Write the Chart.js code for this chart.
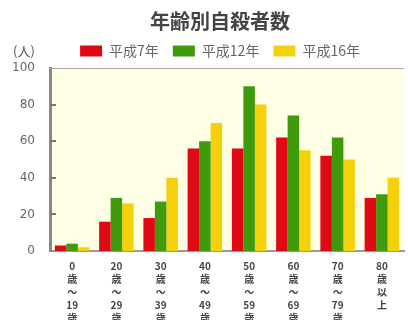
<!DOCTYPE html>
<html>
<head>
<meta charset="utf-8">
<script src="https://cdn.jsdelivr.net/npm/chart.js@4/dist/chart.umd.min.js"></script>
<style>
  body { margin: 0; background: #fff; }
</style>
</head>
<body>
<canvas id="grafico" width="408" height="320"></canvas>
<script>
// categorias (rotulos verticais)
const faixas = [
    ['0', '歳', '～', '19', '歳'],
    ['20', '歳', '～', '29', '歳'],
    ['30', '歳', '～', '39', '歳'],
    ['40', '歳', '～', '49', '歳'],
    ['50', '歳', '～', '59', '歳'],
    ['60', '歳', '～', '69', '歳'],
    ['70', '歳', '～', '79', '歳'],
    ['80', '歳', '以', '上']
]
const series = ['平成7年', '平成12年', '平成16年']
const h7 = [3, 16, 18, 56, 56, 62, 52, 29]
const h12 = [4, 29, 27, 60, 90, 74, 62, 31]
const h16 = [2, 26, 40, 70, 80, 55, 50, 40]
const yTicks = [0, 20, 40, 60, 80, 100]

const fundo = {
    id: 'fundo',
    afterLayout(chart) {
        // titulo e legenda centralizados sobre a area do grafico
        const dx = 18
        chart.legend.left += dx
        chart.legend.right += dx
        chart.titleBlock.left += dx
        chart.titleBlock.right += dx
        chart.titleBlock.top += 3
        chart.titleBlock.bottom += 3
    },
    beforeDraw(chart) {
        const a = chart.chartArea
        const ctx = chart.ctx
        ctx.save()
        ctx.fillStyle = '#FFFFE6'
        ctx.fillRect(a.left, a.top, a.right - a.left, a.bottom - a.top)
        ctx.restore()
    },
    afterDraw(chart) {
        const a = chart.chartArea
        const ctx = chart.ctx
        const y = chart.scales.y
        ctx.save()
        // linha de cima
        ctx.strokeStyle = '#aaa'
        ctx.lineWidth = 1
        ctx.beginPath()
        ctx.moveTo(a.left, a.top + 0.5)
        ctx.lineTo(a.right, a.top + 0.5)
        ctx.stroke()
        // tracinhos do eixo Y (para dentro)
        ctx.strokeStyle = '#777'
        ctx.lineWidth = 2
        yTicks.forEach(v => {
            if (v === 0 || v === 100) return
            const py = Math.round(y.getPixelForValue(v))
            ctx.beginPath()
            ctx.moveTo(a.left, py)
            ctx.lineTo(a.left + 6, py)
            ctx.stroke()
        })
        // unidade
        ctx.fillStyle = '#555'
        ctx.font = '13px "Noto Sans CJK JP"'
        ctx.textBaseline = 'middle'
        ctx.fillText('(人)', 13, 51)
        ctx.restore()
    }
}

new Chart(document.getElementById('grafico'), {
    type: 'bar',
    data: {
        labels: faixas,
        datasets: [
            { label: series[0], data: h7, backgroundColor: '#DD0A14' },
            { label: series[1], data: h12, backgroundColor: '#3F9A0C' },
            { label: series[2], data: h16, backgroundColor: '#F4D10A' }
        ]
    },
    options: {
        responsive: false,
        animation: false,
        layout: { padding: { left: 0, right: 4, top: 0, bottom: 0 } },
        datasets: {
            bar: { categoryPercentage: 0.78, barPercentage: 1.0 }
        },
        plugins: {
            title: {
                display: true,
                text: '年齢別自殺者数',
                color: '#444',
                font: { size: 20, weight: 'bold', family: '"Noto Sans CJK JP"' },
                padding: { top: 6, bottom: 0 }
            },
            legend: {
                display: true,
                labels: {
                    boxWidth: 22,
                    boxHeight: 11,
                    color: '#666',
                    padding: 14,
                    font: { size: 14, family: '"Noto Sans CJK JP"' }
                }
            },
            tooltip: { enabled: false }
        },
        scales: {
            x: {
                grid: { display: false },
                border: { display: true, color: '#999', width: 2 },
                ticks: {
                    color: '#444',
                    maxRotation: 0,
                    autoSkip: false,
                    padding: 1,
                    font: { size: 10, weight: 'bold', family: '"Noto Sans CJK JP"', lineHeight: 1.3 }
                },
                afterFit(scale) { scale.height = 69 }
            },
            y: {
                min: 0,
                max: 100,
                grid: { display: false },
                border: { display: true, color: '#888', width: 3 },
                ticks: {
                    stepSize: 20,
                    color: '#666',
                    padding: 7,
                    font: { size: 12, family: 'DejaVu Sans' }
                },
                afterFit(scale) { scale.width = 50 }
            }
        }
    },
    plugins: [fundo]
})
</script>
</body>
</html>
